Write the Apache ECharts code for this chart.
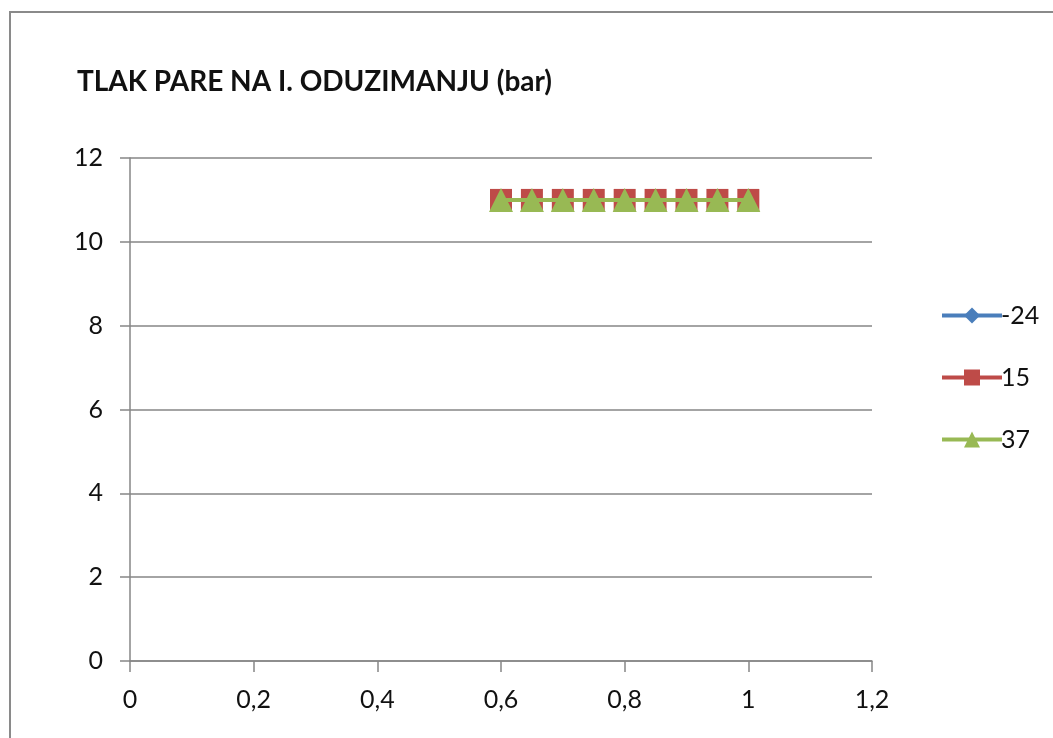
<!DOCTYPE html>
<html>
<head>
<meta charset="utf-8">
<script src="https://cdn.jsdelivr.net/npm/echarts@6/dist/echarts.min.js"></script>
<style>
  html, body { margin: 0; padding: 0; background: #fff; }
  #chart { width: 1053px; height: 738px; }
</style>
</head>
<body>
<div id="chart"></div>
<script>
// Steam pressure at the first extraction, per flow fraction
const seriesNames = ['-24', '15', '37'];
const xValues = [0.6, 0.65, 0.7, 0.75, 0.8, 0.85, 0.9, 0.95, 1.0];
const pressureM24 = [11, 11, 11, 11, 11, 11, 11, 11, 11];
const pressure15 = [11, 11, 11, 11, 11, 11, 11, 11, 11];
const pressure37 = [11, 11, 11, 11, 11, 11, 11, 11, 11];
const titleText = 'TLAK PARE NA I. ODUZIMANJU (bar)';

const colors = ['#4A7EBB', '#BE4B48', '#98B954'];
const symbols = ['diamond', 'rect', 'triangle'];
const symbolSizes = [18, 22, 24];
const allValues = [pressureM24, pressure15, pressure37];

const font = 'Lato, "Open Sans", sans-serif';

const chart = echarts.init(document.getElementById('chart'));
chart.setOption({
  animation: false,
  backgroundColor: '#fff',
  textStyle: { fontFamily: font },
  title: {
    text: titleText,
    left: 72, top: 63,
    textStyle: { fontFamily: font, fontSize: 28, fontWeight: 'bold', color: '#111' }
  },
  graphic: [{
    type: 'rect',
    shape: { x: 10, y: 12, width: 1200, height: 900 },
    style: { fill: 'none', stroke: '#8a8a8a', lineWidth: 2 },
    silent: true
  }],
  legend: {
    orient: 'vertical',
    left: 935, top: 298,
    itemGap: 37,
    itemWidth: 60, itemHeight: 20,
    textStyle: { fontFamily: font, fontSize: 25, color: '#111', padding: [0, 0, 0, -6] },
    data: seriesNames.map(n => ({ name: n })),
    lineStyle: { width: 4 }
  },
  grid: { left: 130, right: 181, top: 158, bottom: 77 },
  xAxis: {
    type: 'value', min: 0, max: 1.2, interval: 0.2,
    axisLine: { show: true, lineStyle: { color: '#868686', width: 1.5 } },
    axisTick: { show: true, length: 11, lineStyle: { color: '#868686', width: 1.5 } },
    splitLine: { show: false },
    axisLabel: {
      fontFamily: font, fontSize: 25, color: '#111', margin: 26,
      formatter: v => String(Math.round(v * 10) / 10).replace('.', ',')
    }
  },
  yAxis: {
    type: 'value', min: 0, max: 12, interval: 2,
    axisLine: { show: true, lineStyle: { color: '#868686', width: 1.5 } },
    axisTick: { show: true, length: 10, lineStyle: { color: '#868686', width: 1.5 } },
    splitLine: { show: true, lineStyle: { color: '#868686', width: 1.5 } },
    axisLabel: { fontFamily: font, fontSize: 25, color: '#111', margin: 27 }
  },
  series: seriesNames.map((name, i) => ({
    name,
    type: 'line',
    data: xValues.map((x, j) => [x, allValues[i][j]]),
    symbol: symbols[i],
    symbolSize: symbolSizes[i],
    showAllSymbol: true,
    itemStyle: { color: colors[i] },
    lineStyle: { color: colors[i], width: 4 },
    z: 2 + i
  }))
});
</script>
</body>
</html>
